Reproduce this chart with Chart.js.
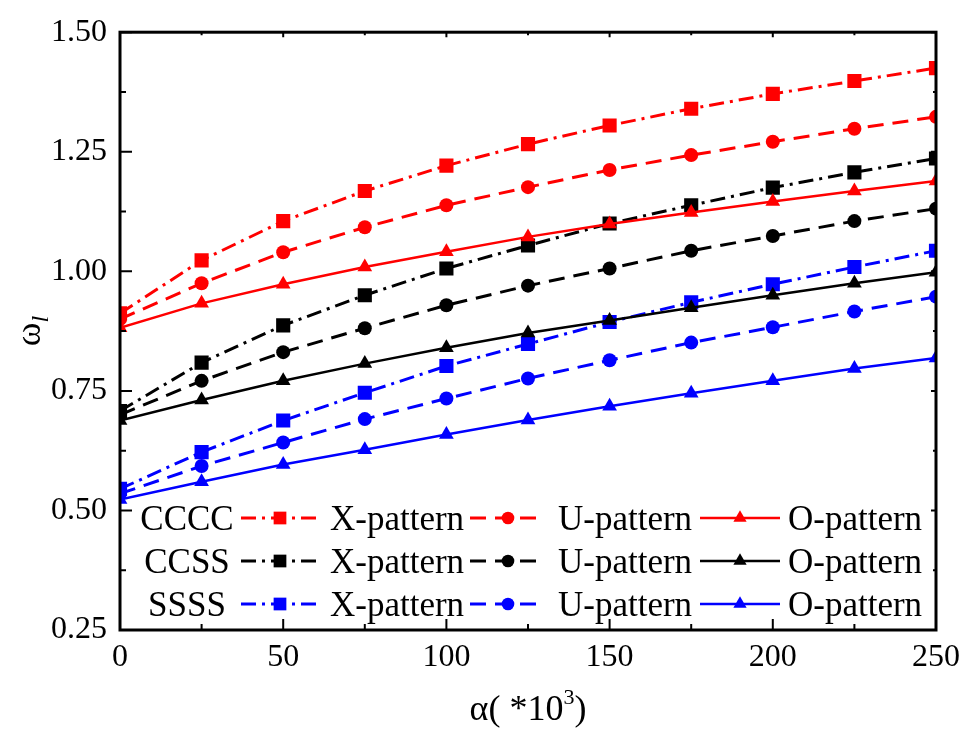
<!DOCTYPE html>
<html lang="en">
<head>
<meta charset="UTF-8">
<title>omega_l vs alpha</title>
<script src="https://cdn.jsdelivr.net/npm/chart.js@4"></script>
<style>
  html, body { margin: 0; background: #ffffff; }
  .chart-box { width: 968px; height: 731px; position: relative; }
</style>
</head>
<body>
<div class="chart-box"><canvas id="omegaChart"></canvas></div>
<script>
// alpha (*10^3)
const alphaValues = [0, 25, 50, 75, 100, 125, 150, 175, 200, 225, 250];

// CCCC
const ccccX = [0.912, 1.023, 1.105, 1.168, 1.221, 1.266, 1.305, 1.340, 1.371, 1.398, 1.425];
const ccccU = [0.900, 0.975, 1.040, 1.092, 1.138, 1.176, 1.212, 1.243, 1.271, 1.298, 1.323];
const ccccO = [0.882, 0.933, 0.973, 1.009, 1.041, 1.072, 1.099, 1.123, 1.146, 1.168, 1.189];
// CCSS
const ccssX = [0.708, 0.809, 0.887, 0.950, 1.006, 1.054, 1.100, 1.138, 1.175, 1.207, 1.236];
const ccssU = [0.700, 0.771, 0.831, 0.881, 0.929, 0.970, 1.006, 1.043, 1.074, 1.105, 1.131];
const ccssO = [0.688, 0.731, 0.771, 0.807, 0.840, 0.871, 0.897, 0.924, 0.950, 0.975, 0.998];
// SSSS
const ssssX = [0.545, 0.622, 0.688, 0.746, 0.802, 0.848, 0.894, 0.935, 0.973, 1.009, 1.043];
const ssssU = [0.535, 0.593, 0.642, 0.691, 0.734, 0.776, 0.814, 0.851, 0.883, 0.916, 0.947];
const ssssO = [0.523, 0.560, 0.596, 0.627, 0.659, 0.689, 0.718, 0.745, 0.771, 0.797, 0.819];

const boundaryNames = ['CCCC', 'CCSS', 'SSSS'];
const patternNames = ['X-pattern', 'U-pattern', 'O-pattern'];
const yTickLabels = ['0.25', '0.50', '0.75', '1.00', '1.25', '1.50'];

const seriesTable = [
    [ccccX, ccccU, ccccO],
    [ccssX, ccssU, ccssO],
    [ssssX, ssssU, ssssO]
];

const rowColors = ['#ff0000', '#000000', '#0000ff'];
const patternStyle = [
    { dash: [15, 6, 3, 6], point: 'rect', radius: 10, width: 3 },
    { dash: [16, 9], point: 'circle', radius: 7, width: 3 },
    { dash: [], point: 'triangle', radius: 8.5, width: 2.5 }
];

const serif = "'Liberation Serif', 'Times New Roman', serif";

const datasets = [];
seriesTable.forEach((row, r) => {
    row.forEach((vals, p) => {
        const st = patternStyle[p];
        datasets.push({
            label: boundaryNames[r] + ' ' + patternNames[p],
            data: alphaValues.map((a, i) => ({ x: a, y: vals[i] })),
            borderColor: rowColors[r],
            backgroundColor: rowColors[r],
            borderWidth: st.width,
            borderDash: st.dash,
            pointStyle: st.point,
            pointRadius: st.radius,
            pointHoverRadius: st.radius,
            pointBorderWidth: 0,
            tension: 0,
            _row: r,
            _pat: p
        });
    });
});

// frame, inside ticks, legend and axis titles
const framePlugin = {
    id: 'framePlugin',
    afterDraw(chart) {
        const ctx = chart.ctx;
        const a = chart.chartArea;
        const xs = chart.scales.x, ys = chart.scales.y;
        ctx.save();
        ctx.strokeStyle = '#000';
        ctx.lineWidth = 3;
        ctx.strokeRect(a.left, a.top, a.right - a.left, a.bottom - a.top);

        ctx.lineWidth = 2;
        ctx.beginPath();
        for (let v = 0; v <= 250; v += 25) {
            const px = xs.getPixelForValue(v);
            const major = v % 50 === 0;
            ctx.moveTo(px, a.bottom);
            ctx.lineTo(px, a.bottom - (major ? 11 : 6));
            ctx.moveTo(px, a.top);
            ctx.lineTo(px, a.top + (major ? 5 : 3));
        }
        for (let k = 0; k <= 10; k++) {
            const v = 0.25 + k * 0.125;
            const py = ys.getPixelForValue(v);
            const major = k % 2 === 0;
            ctx.moveTo(a.left, py);
            ctx.lineTo(a.left + (major ? 12 : 6), py);
            ctx.moveTo(a.right, py);
            ctx.lineTo(a.right - (major ? 5 : 3), py);
        }
        ctx.stroke();

        // legend
        const rowsY = [518, 561, 604];
        const cols = [
            { x0: 241, x1: 322, mark: 280, text: 330 },
            { x0: 470, x1: 545, mark: 508, text: 558 },
            { x0: 700, x1: 780, mark: 740, text: 788 }
        ];
        ctx.font = '35px ' + serif;
        ctx.textBaseline = 'alphabetic';
        chart.data.datasets.forEach(ds => {
            const y = rowsY[ds._row];
            const c = cols[ds._pat];
            if (ds._pat === 0) {
                ctx.fillStyle = '#000';
                ctx.textAlign = 'center';
                ctx.fillText(boundaryNames[ds._row], 187, y + 12);
            }
            ctx.strokeStyle = ds.borderColor;
            ctx.lineWidth = ds.borderWidth;
            ctx.setLineDash(ds.borderDash);
            ctx.beginPath();
            ctx.moveTo(c.x0, y);
            ctx.lineTo(c.x1, y);
            ctx.stroke();
            ctx.setLineDash([]);
            ctx.fillStyle = ds.backgroundColor;
            Chart.helpers.drawPoint(ctx, {
                pointStyle: ds.pointStyle, radius: ds.pointRadius * 0.9, borderWidth: 0, rotation: 0
            }, c.mark, y);
            ctx.fillStyle = '#000';
            ctx.textAlign = 'left';
            ctx.fillText(patternNames[ds._pat], c.text, y + 12);
        });

        // x title: α( *10³)
        const cx = (a.left + a.right) / 2;
        const main1 = 'α( *10';
        const sup = '3';
        const main2 = ')';
        ctx.font = '36px ' + serif;
        const w1 = ctx.measureText(main1).width;
        const w3 = ctx.measureText(main2).width;
        ctx.font = '22px ' + serif;
        const w2 = ctx.measureText(sup).width;
        let sx = cx - (w1 + w2 + w3) / 2;
        ctx.textAlign = 'left';
        ctx.fillStyle = '#000';
        ctx.font = '36px ' + serif;
        ctx.fillText(main1, sx, 720);
        ctx.font = '22px ' + serif;
        ctx.fillText(sup, sx + w1, 704);
        ctx.font = '36px ' + serif;
        ctx.fillText(main2, sx + w1 + w2, 720);

        // y title: ω with italic subscript l
        ctx.translate(40, (a.top + a.bottom) / 2);
        ctx.rotate(-Math.PI / 2);
        ctx.font = '36px ' + serif;
        const ww = ctx.measureText('ω').width;
        ctx.font = 'italic 24px ' + serif;
        const wl = ctx.measureText('l').width;
        const start = -(ww + wl) / 2;
        ctx.font = '36px ' + serif;
        ctx.fillText('ω', start, 0);
        ctx.font = 'italic 24px ' + serif;
        ctx.fillText('l', start + ww, 8);
        ctx.restore();
    }
};

new Chart(document.getElementById('omegaChart'), {
    type: 'line',
    data: { datasets: datasets },
    options: {
        responsive: true,
        maintainAspectRatio: false,
        animation: false,
        devicePixelRatio: 1,
        layout: { padding: { top: 28, right: 31, left: 0, bottom: 0 } },
        plugins: { legend: { display: false }, tooltip: { enabled: false } },
        scales: {
            x: {
                type: 'linear',
                min: 0,
                max: 250,
                grid: { display: false, drawTicks: false },
                border: { display: false },
                ticks: { stepSize: 50, padding: 8, color: '#000', font: { family: serif, size: 32 } },
                afterFit(scale) { scale.height = 101; }
            },
            y: {
                type: 'linear',
                min: 0.25,
                max: 1.5,
                grid: { display: false, drawTicks: false },
                border: { display: false },
                ticks: {
                    stepSize: 0.25,
                    padding: 13,
                    color: '#000',
                    font: { family: serif, size: 32 },
                    callback: (v) => yTickLabels.find(t => Math.abs(parseFloat(t) - v) < 1e-6) || ''
                },
                afterFit(scale) { scale.width = 120; }
            }
        }
    },
    plugins: [framePlugin]
});
</script>
</body>
</html>
